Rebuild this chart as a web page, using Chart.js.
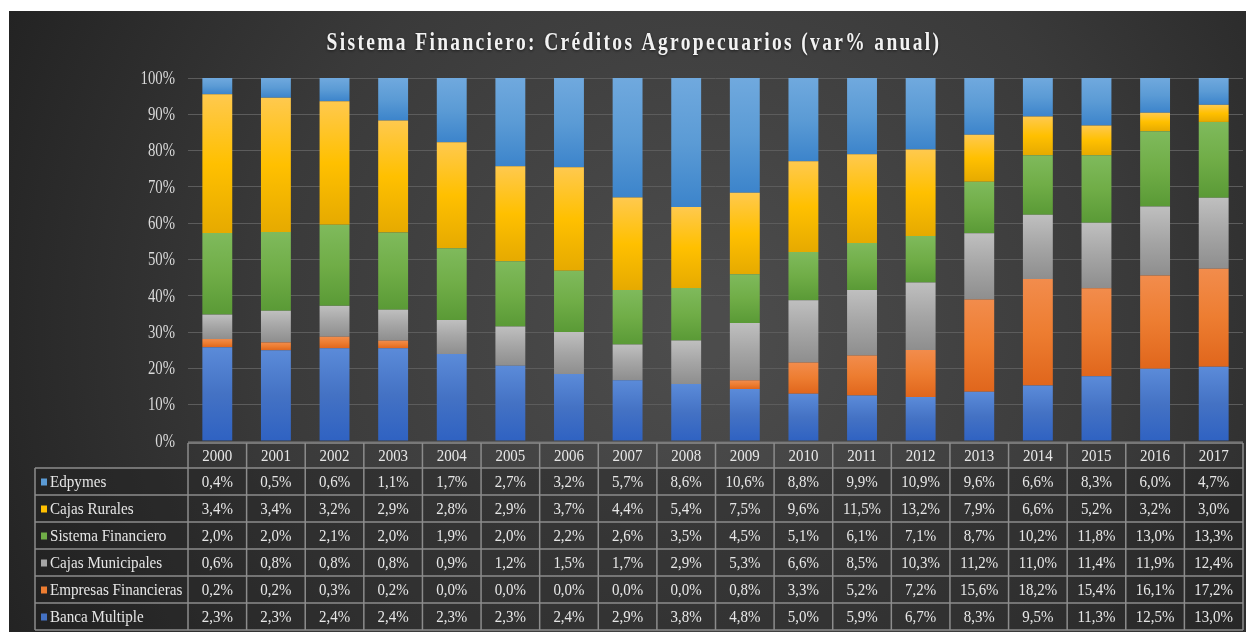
<!DOCTYPE html>
<html>
<head>
<meta charset="utf-8">
<script src="https://cdn.jsdelivr.net/npm/chart.js@4"></script>
<style>
  html, body { margin: 0; padding: 0; background: #fff; }
  #wrap { width: 1246px; height: 632px; }
</style>
</head>
<body>
<div id="wrap"><canvas id="chart-1" width="1246" height="632"></canvas></div>
<script>
const years = ['2000','2001','2002','2003','2004','2005','2006','2007','2008','2009','2010','2011','2012','2013','2014','2015','2016','2017'];
const yTicks = ['0%','10%','20%','30%','40%','50%','60%','70%','80%','90%','100%'];

// var% anual por entidad (tabla inferior)
const bancaMultiple       = [2.3, 2.3, 2.4, 2.4, 2.3, 2.3, 2.4, 2.9, 3.8, 4.8, 5.0, 5.9, 6.7, 8.3, 9.5, 11.3, 12.5, 13.0];
const empresasFinancieras = [0.2, 0.2, 0.3, 0.2, 0.0, 0.0, 0.0, 0.0, 0.0, 0.8, 3.3, 5.2, 7.2, 15.6, 18.2, 15.4, 16.1, 17.2];
const cajasMunicipales    = [0.6, 0.8, 0.8, 0.8, 0.9, 1.2, 1.5, 1.7, 2.9, 5.3, 6.6, 8.5, 10.3, 11.2, 11.0, 11.4, 11.9, 12.4];
const sistemaFinanciero   = [2.0, 2.0, 2.1, 2.0, 1.9, 2.0, 2.2, 2.6, 3.5, 4.5, 5.1, 6.1, 7.1, 8.7, 10.2, 11.8, 13.0, 13.3];
const cajasRurales        = [3.4, 3.4, 3.2, 2.9, 2.8, 2.9, 3.7, 4.4, 5.4, 7.5, 9.6, 11.5, 13.2, 7.9, 6.6, 5.2, 3.2, 3.0];
const edpymes             = [0.4, 0.5, 0.6, 1.1, 1.7, 2.7, 3.2, 5.7, 8.6, 10.6, 8.8, 9.9, 10.9, 9.6, 6.6, 8.3, 6.0, 4.7];

const series = [
  { label: 'Banca Multiple',       values: bancaMultiple,       top: '#5b8bd9', bottom: '#2f62c2', key: '#4472c4' },
  { label: 'Empresas Financieras', values: empresasFinancieras, top: '#f28c4c', bottom: '#e0661c', key: '#ed7d31' },
  { label: 'Cajas Municipales',    values: cajasMunicipales,    top: '#bfbfbf', bottom: '#8e8e8e', key: '#a5a5a5' },
  { label: 'Sistema Financiero',   values: sistemaFinanciero,   top: '#7fba5c', bottom: '#5a9a36', key: '#70ad47' },
  { label: 'Cajas Rurales',        values: cajasRurales,        top: '#ffc94e', bottom: '#e6aa00', key: '#ffc000' },
  { label: 'Edpymes',              values: edpymes,             top: '#70a9de', bottom: '#3c84cb', key: '#5b9bd5' }
];

const totals = years.map((y, i) => series.reduce((s, d) => s + d.values[i], 0));
const pct = series.map(d => d.values.map((v, i) => v / totals[i] * 100));

function fmt(v) {
  return v.toFixed(1).replace('.', ',') + '%';
}

const SERIF = '"Liberation Serif", "Times New Roman", serif';

// texto estrecho, como en la imagen original
function narrowText(ctx, text, x, y, align, sx) {
  ctx.save();
  ctx.translate(x, y);
  ctx.scale(sx, 1);
  ctx.textAlign = align;
  ctx.fillText(text, 0, 0);
  ctx.restore();
}

const bgPlugin = {
  id: 'bg',
  beforeDraw(chart) {
    const ctx = chart.ctx;
    ctx.save();
    ctx.fillStyle = '#ffffff';
    ctx.fillRect(0, 0, chart.width, chart.height);
    const g = ctx.createRadialGradient(700, 330, 30, 700, 330, 760);
    g.addColorStop(0, '#4c4c4c');
    g.addColorStop(0.55, '#3a3a3a');
    g.addColorStop(1, '#232323');
    ctx.fillStyle = g;
    ctx.fillRect(9, 11, chart.width - 9, chart.height - 11);

    // titulo
    ctx.font = 'bold 25px ' + SERIF;
    ctx.letterSpacing = '3px';
    ctx.textBaseline = 'alphabetic';
    ctx.shadowColor = 'rgba(0,0,0,0.6)';
    ctx.shadowBlur = 3;
    ctx.shadowOffsetY = 1;
    ctx.fillStyle = '#f2f2f2';
    narrowText(ctx, 'Sistema Financiero: Créditos Agropecuarios (var% anual)', 634, 50, 'center', 0.78);
    ctx.restore();
  },
  afterDatasetsDraw(chart) {
    const ctx = chart.ctx;
    const y = chart.scales.y;
    ctx.save();
    ctx.font = '18px ' + SERIF;
    ctx.textBaseline = 'middle';
    ctx.fillStyle = '#d9d9d9';
    yTicks.forEach((t, i) => narrowText(ctx, t, 175, y.getPixelForValue(i * 10) + 1, 'right', 0.82));
    ctx.restore();
  }
};

const tablePlugin = {
  id: 'dataTable',
  afterDraw(chart) {
    const ctx = chart.ctx;
    const x = chart.scales.x;
    const area = chart.chartArea;
    const step = x.getPixelForValue(1) - x.getPixelForValue(0);
    const left = area.left, right = area.right;
    const labelLeft = 35;
    const headTop = 443, headBottom = 468, rowH = 27;
    const rows = series.slice().reverse();
    const bottom = headBottom + rowH * rows.length;

    ctx.save();
    ctx.fillStyle = 'rgba(30,30,30,0.35)';
    ctx.fillRect(labelLeft, headBottom, right - labelLeft, bottom - headBottom);

    ctx.strokeStyle = '#8c8c8c';
    ctx.lineWidth = 1.5;
    ctx.beginPath();
    ctx.moveTo(left, headTop); ctx.lineTo(right, headTop);
    for (let r = 0; r <= rows.length; r++) {
      const yy = headBottom + r * rowH;
      ctx.moveTo(labelLeft, yy); ctx.lineTo(right, yy);
    }
    ctx.moveTo(labelLeft, headBottom); ctx.lineTo(labelLeft, bottom);
    for (let i = 0; i <= years.length; i++) {
      const xx = i < years.length ? x.getPixelForValue(i) - step / 2 : right;
      ctx.moveTo(xx, headTop); ctx.lineTo(xx, bottom);
    }
    ctx.stroke();

    ctx.font = '17px ' + SERIF;
    ctx.textBaseline = 'middle';
    ctx.fillStyle = '#e6e6e6';
    years.forEach((yr, i) => {
      narrowText(ctx, yr, x.getPixelForValue(i), (headTop + headBottom) / 2 + 1, 'center', 0.88);
    });
    rows.forEach((s, r) => {
      const cy = headBottom + r * rowH + rowH / 2 + 1;
      ctx.fillStyle = '#e6e6e6';
      s.values.forEach((v, i) => narrowText(ctx, fmt(v), x.getPixelForValue(i), cy, 'center', 0.88));
      narrowText(ctx, s.label, 50, cy, 'left', 0.89);
      ctx.fillStyle = s.key;
      ctx.fillRect(41, cy - 4, 6, 7);
    });
    ctx.restore();
  }
};

function segmentFill(s, di) {
  return function(c) {
    const chart = c.chart;
    if (!chart.chartArea || c.dataIndex === undefined) return s.key;
    const y = chart.scales.y;
    let base = 0;
    for (let k = 0; k < di; k++) base += pct[k][c.dataIndex];
    const top = y.getPixelForValue(base + pct[di][c.dataIndex]);
    const bot = y.getPixelForValue(base);
    if (!isFinite(top) || !isFinite(bot) || Math.abs(bot - top) < 1) return s.key;
    const g = chart.ctx.createLinearGradient(0, top, 0, bot);
    g.addColorStop(0, s.top);
    g.addColorStop(0.5, s.key);
    g.addColorStop(1, s.bottom);
    return g;
  };
}

const ctx = document.getElementById('chart-1').getContext('2d');
new Chart(ctx, {
  type: 'bar',
  data: {
    labels: years,
    datasets: series.map((s, di) => ({
      label: s.label,
      data: pct[di],
      backgroundColor: segmentFill(s, di),
      borderWidth: 0,
      barPercentage: 0.51,
      categoryPercentage: 1
    }))
  },
  options: {
    responsive: false,
    animation: false,
    layout: { padding: { top: 78, bottom: 191, left: 0, right: 3 } },
    plugins: {
      legend: { display: false },
      title: { display: false },
      tooltip: { enabled: false }
    },
    scales: {
      x: {
        stacked: true,
        display: false
      },
      y: {
        stacked: true,
        min: 0,
        max: 100,
        afterFit(scale) { scale.width = 188; },
        ticks: { stepSize: 10, display: false },
        grid: { color: '#5c5c5c', lineWidth: 1, drawTicks: false },
        border: { display: false }
      }
    }
  },
  plugins: [bgPlugin, tablePlugin]
});
</script>
</body>
</html>
